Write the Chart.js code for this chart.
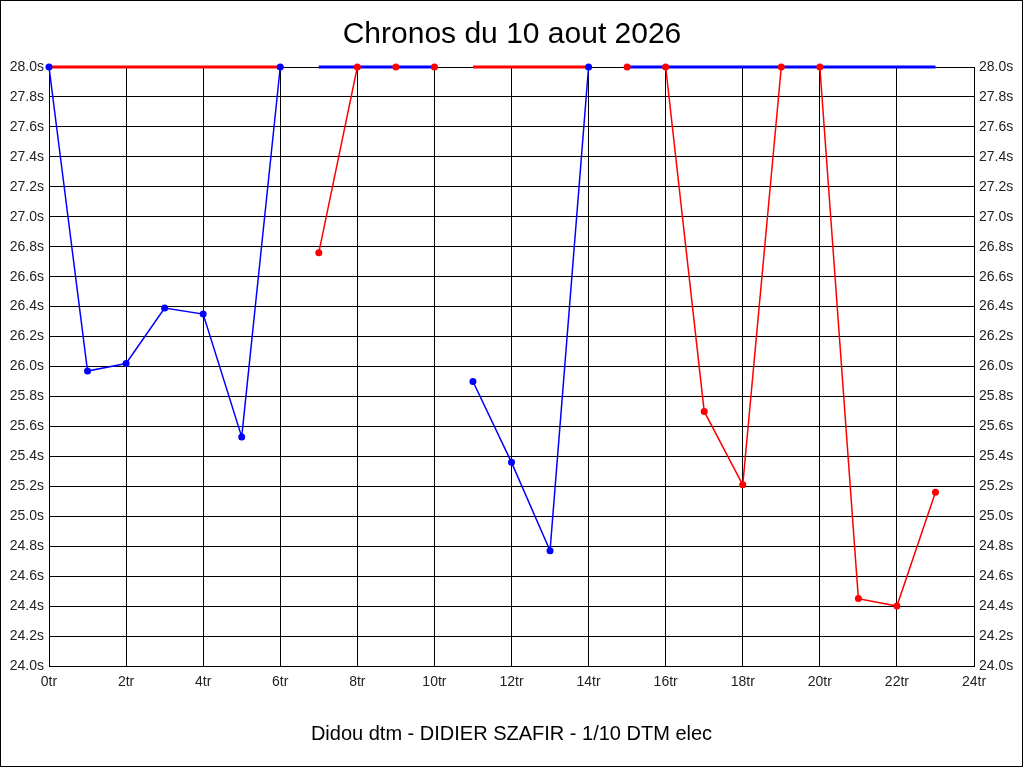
<!DOCTYPE html>
<html>
<head>
<meta charset="utf-8">
<script src="https://cdn.jsdelivr.net/npm/chart.js@4/dist/chart.umd.min.js"></script>
<style>
  html, body { margin: 0; padding: 0; background: #fff; }
  #wrap { width: 1024px; height: 768px; }
</style>
</head>
<body>
<div id="wrap"><canvas id="chronos" width="1024" height="768"></canvas></div>
<script>
// tours (axe x) et chronos en secondes
var tours = [0, 1, 2, 3, 4, 5, 6, 7, 8, 9, 10, 11, 12, 13, 14, 15, 16, 17, 18, 19, 20, 21, 22, 23];

// chronos voiture bleue
var chronoBleu = [28.0, 25.97, 26.02, 26.39, 26.35, 25.53, 28.0, null, null, null, null, 25.90,
                  25.36, 24.77, 28.0, null, null, null, null, null, null, null, null, null];
// chronos voiture rouge
var chronoRouge = [null, null, null, null, null, null, null, 26.76, 28.0, 28.0, 28.0, null,
                   null, null, null, 28.0, 28.0, 25.70, 25.21, 28.0, 28.0, 24.45, 24.40, 25.16];

// bandes hors echelle (en haut du graphe)
var horsBleu = [null, null, null, null, null, null, null, 28.0, 28.0, 28.0, 28.0, null,
                null, null, null, 28.0, 28.0, 28.0, 28.0, 28.0, 28.0, 28.0, 28.0, 28.0];
var horsRouge = [28.0, 28.0, 28.0, 28.0, 28.0, 28.0, 28.0, null, null, null, null, 28.0,
                 28.0, 28.0, 28.0, null, null, null, null, null, null, null, null, null];

var titre = "Chronos du 10 aout 2026";
var pilote = "Didou dtm - DIDIER SZAFIR - 1/10 DTM elec";

function points(valeurs) {
  var pts = [];
  for (var i in tours) {
    pts.push({ x: tours[i], y: valeurs[i] });
  }
  return pts;
}

var police = '"Liberation Sans", Arial, sans-serif';

// cadre autour de l'image
var cadre = {
  id: 'cadre',
  afterDraw: function(chart) {
    var ctx = chart.ctx;
    ctx.save();
    ctx.strokeStyle = '#000';
    ctx.lineWidth = 1;
    ctx.strokeRect(0.5, 0.5, 1022, 766);
    ctx.restore();
  }
};

// traits fins des chronos (dessous)
function trait(label, valeurs, couleur) {
  return {
    label: label,
    data: points(valeurs),
    borderColor: couleur,
    borderWidth: 1.5,
    pointRadius: 0,
    spanGaps: false,
    clip: false,
    order: 3
  };
}
// bandes epaisses en haut (au milieu)
function bande(label, valeurs, couleur) {
  return {
    label: label,
    data: points(valeurs),
    borderColor: couleur,
    borderWidth: 3,
    pointRadius: 0,
    spanGaps: false,
    clip: false,
    order: 2
  };
}
// points des chronos (dessus)
function pastilles(label, valeurs, couleur) {
  return {
    label: label,
    data: points(valeurs),
    showLine: false,
    backgroundColor: couleur,
    borderColor: couleur,
    pointRadius: 3.5,
    pointBorderWidth: 0,
    clip: false,
    order: 1
  };
}

var ctx = document.getElementById('chronos');
var monGraphe = new Chart(ctx, {
  type: 'line',
  data: {
    datasets: [
      trait('Bleu', chronoBleu, '#0000ff'),
      trait('Rouge', chronoRouge, '#ff0000'),
      bande('Hors bleu', horsBleu, '#0000ff'),
      bande('Hors rouge', horsRouge, '#ff0000'),
      pastilles('Points bleu', chronoBleu, '#0000ff'),
      pastilles('Points rouge', chronoRouge, '#ff0000')
    ]
  },
  options: {
    responsive: false,
    animation: false,
    devicePixelRatio: 1,
    layout: { padding: 0 },
    plugins: {
      legend: { display: false },
      tooltip: { enabled: false },
      title: {
        display: true,
        text: titre,
        color: '#000',
        font: { family: police, size: 30, weight: 'normal' },
        padding: { top: 17, bottom: 14 }
      }
    },
    scales: {
      x: {
        type: 'linear',
        min: 0,
        max: 24,
        grid: { color: '#000', lineWidth: 1, drawTicks: false },
        border: { color: '#000' },
        ticks: {
          stepSize: 2,
          padding: 8,
          color: '#222',
          font: { family: police, size: 14 },
          callback: function(v) { return v + 'tr'; }
        },
        title: {
          display: true,
          text: pilote,
          color: '#000',
          font: { family: police, size: 20 },
          padding: { top: 0, bottom: 22 }
        },
        afterFit: function(scale) { scale.height = 102; }
      },
      y: {
        position: 'left',
        min: 24,
        max: 28,
        grid: { color: '#000', lineWidth: 1, drawTicks: false },
        border: { color: '#000' },
        ticks: {
          stepSize: 0.2,
          padding: 5,
          color: '#222',
          font: { family: police, size: 14 },
          callback: function(v) { return v.toFixed(1) + 's'; }
        },
        afterFit: function(scale) { scale.width = 49; }
      },
      y2: {
        position: 'right',
        min: 24,
        max: 28,
        grid: { drawOnChartArea: false, drawTicks: false },
        border: { color: '#000' },
        ticks: {
          stepSize: 0.2,
          padding: 5,
          color: '#222',
          font: { family: police, size: 14 },
          callback: function(v) { return v.toFixed(1) + 's'; }
        },
        afterFit: function(scale) { scale.width = 50; }
      }
    }
  },
  plugins: [cadre]
});
</script>
</body>
</html>
